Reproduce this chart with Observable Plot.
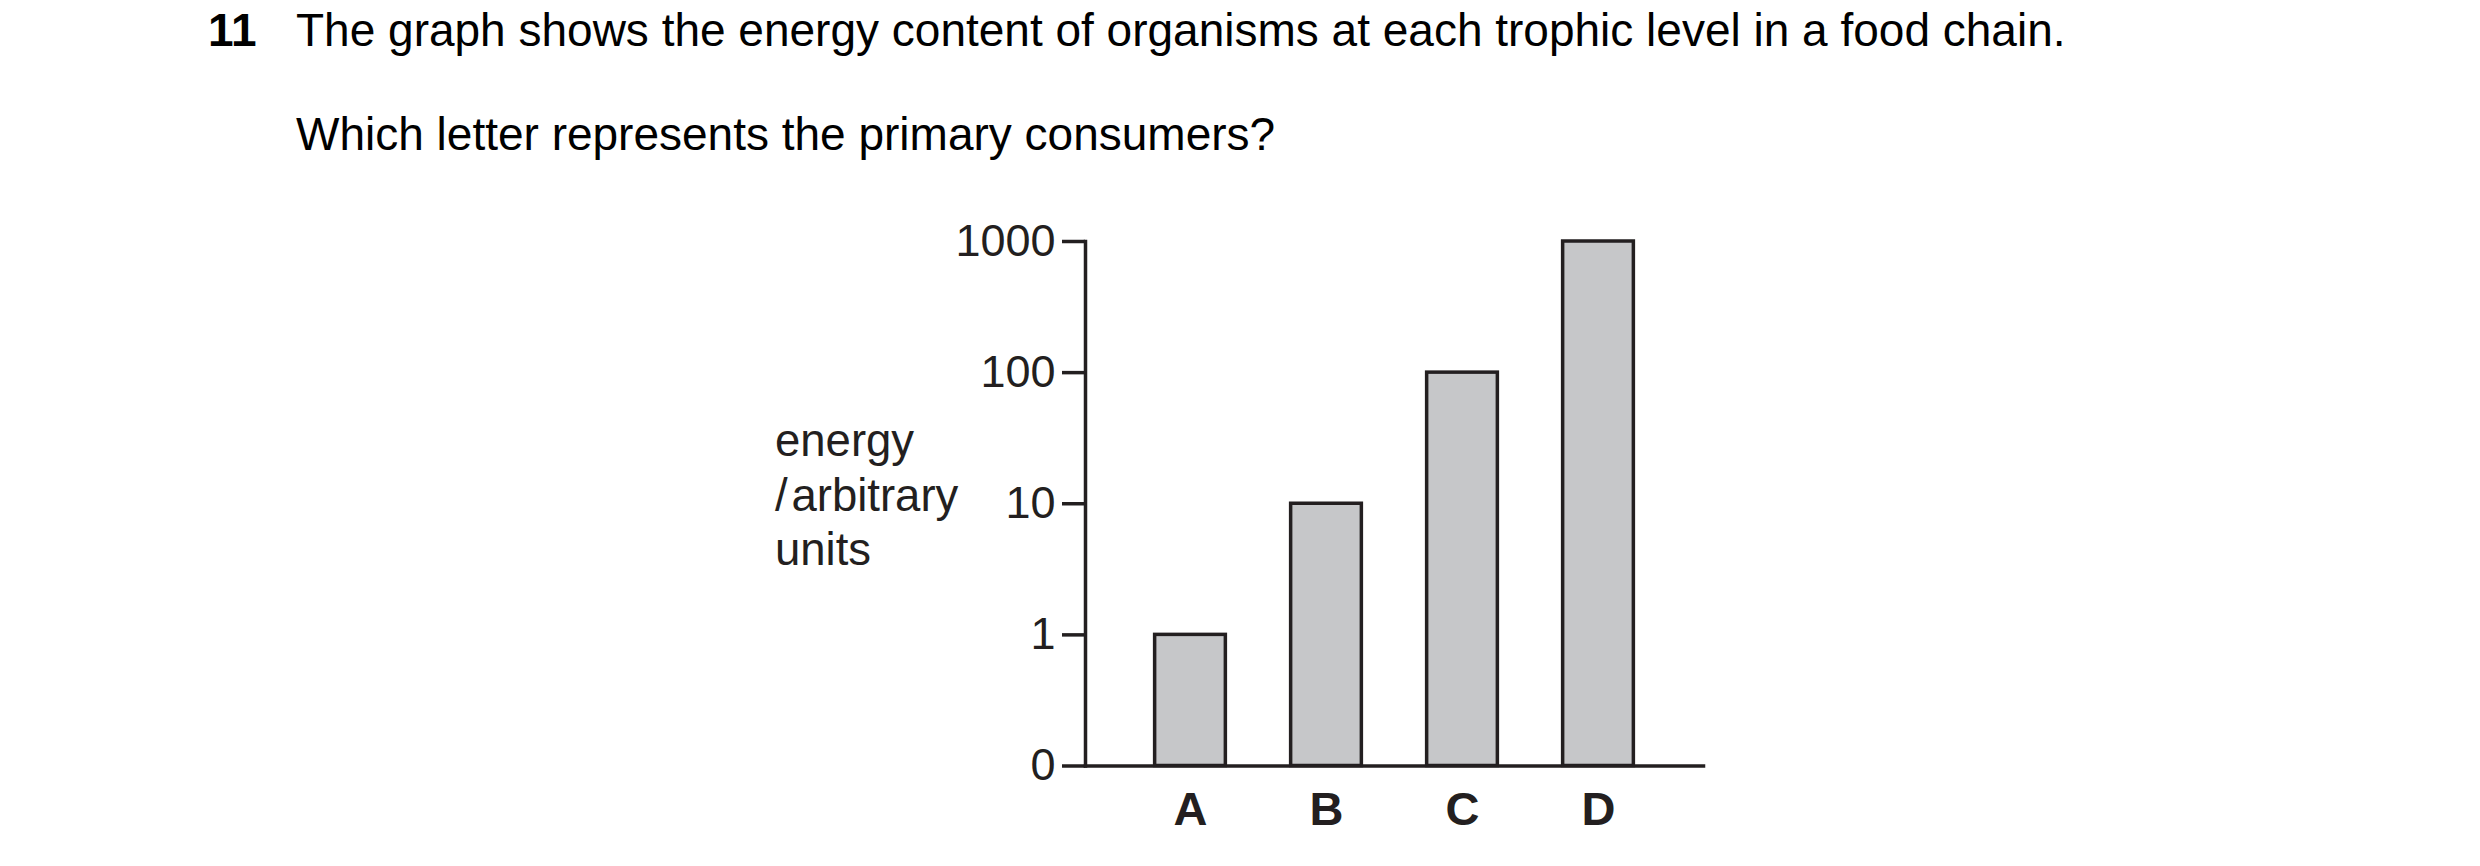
<!DOCTYPE html>
<html>
<head>
<meta charset="utf-8">
<script src="https://cdn.jsdelivr.net/npm/d3@7"></script>
<script src="https://cdn.jsdelivr.net/npm/@observablehq/plot@0.6"></script>
<style>
  html, body { margin: 0; padding: 0; background: #fff; }
  #page { position: relative; width: 2480px; height: 866px; overflow: hidden; font-family: "Liberation Sans", Arial, sans-serif; color: #000; }
  .t { position: absolute; white-space: nowrap; font-size: 46px; line-height: 46px; }
  #num { left: 208px; top: 7px; font-weight: bold; }
  #title { left: 296px; top: 7px; }
  #subtitle { left: 296px; top: 111px; }
  #ylabel { position: absolute; left: 775px; top: 414px; font-size: 45.5px; line-height: 54.5px; color: #231f20; }
  #chart { position: absolute; left: 0; top: 0; }
</style>
</head>
<body>
<div id="page">
  <div id="chart"></div>
  <div class="t" id="num">11</div>
  <div class="t" id="title">The graph shows the energy content of organisms at each trophic level in a food chain.</div>
  <div class="t" id="subtitle">Which letter represents the primary consumers?</div>
  <div id="ylabel">energy<br>/&#8202;arbitrary<br>units</div>
</div>
<script>
// Data
const letters = ["A", "B", "C", "D"];
const energy = [1, 10, 100, 1000];
const tickValues = [0, 1, 10, 100, 1000];

// Broken logarithmic axis: 0 sits one decade below 1
const pos = v => (v === 0 ? 0 : Math.log10(v) + 1);
const labelAt = new Map(tickValues.map(v => [pos(v), String(v)]));

const data = letters.map((letter, i) => ({ letter, energy: energy[i] }));

const ink = "#231f20";

const chart = Plot.plot({
  width: 2480,
  height: 866,
  marginLeft: 1085,
  marginRight: 777,
  marginTop: 241,
  marginBottom: 100.5,
  style: { fontFamily: "'Liberation Sans', Arial, sans-serif", color: ink, background: "transparent", overflow: "visible" },
  x: { domain: letters, paddingInner: 0.48, paddingOuter: 0.512, round: false, label: null },
  y: { domain: [0, 4], label: null },
  marks: [
    Plot.barY(data, {
      x: "letter",
      y1: () => pos(0),
      y2: d => pos(d.energy),
      fill: "#c6c7c9",
      stroke: ink,
      strokeWidth: 3.5
    }),
    Plot.axisY(tickValues.map(pos), {
      tickFormat: d => labelAt.get(d),
      tickSize: 23,
      tickPadding: 7,
      fontSize: 45,
      stroke: ink,
      strokeWidth: 3.5,
      label: null
    }),
    Plot.axisX({ tickSize: 0, tickPadding: 26, fontSize: 47, fontWeight: "bold", label: null }),
    Plot.frame({ anchor: "left", stroke: ink, strokeWidth: 3.5 }),
    Plot.frame({ anchor: "bottom", stroke: ink, strokeWidth: 3.5 })
  ]
});
document.getElementById("chart").appendChild(chart);
</script>
</body>
</html>
